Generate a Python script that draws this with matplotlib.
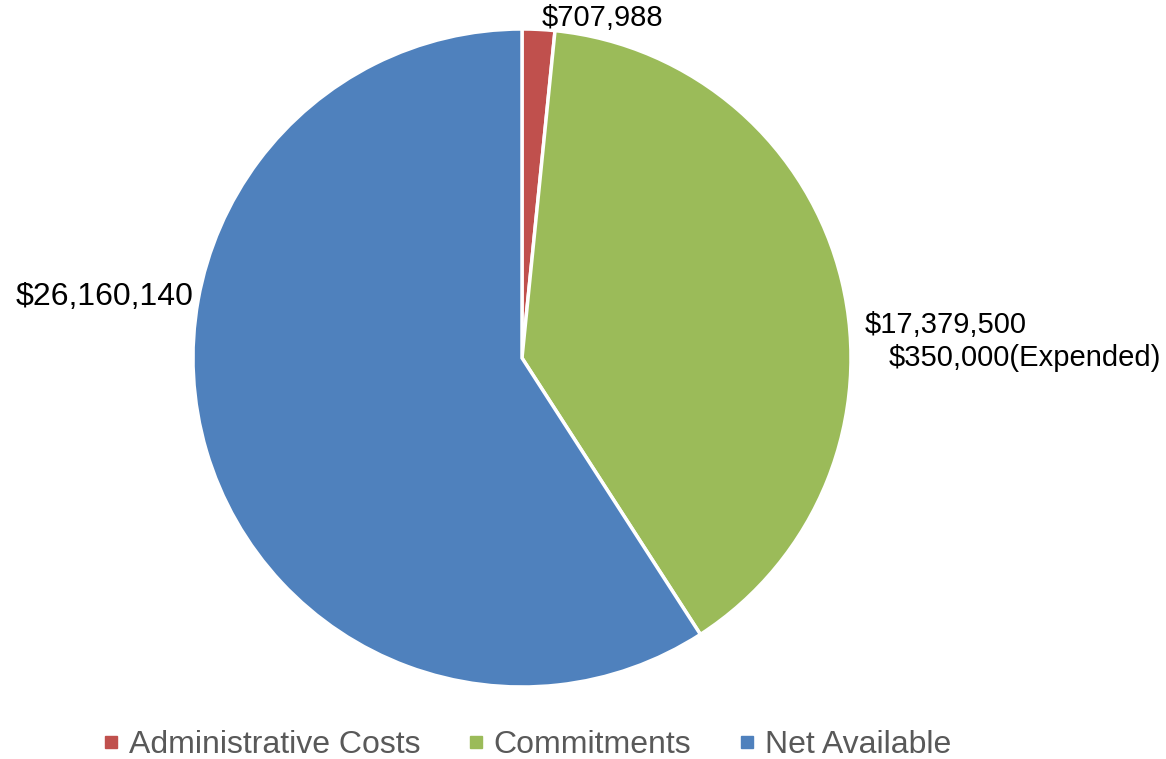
import matplotlib
matplotlib.use("Agg")
import matplotlib.pyplot as plt
from matplotlib.lines import Line2D

plt.rcParams["font.family"] = ["Liberation Sans", "DejaVu Sans"]

categories = ["Administrative Costs", "Commitments", "Net Available"]
values = [707988, 17379500, 26160140]
value_labels = ["$707,988", "$17,379,500", "$26,160,140"]
expended_label = "$350,000(Expended)"
colors = ["#C0504D", "#9BBB59", "#4F81BD"]

W, H = 1166, 759
fig = plt.figure(figsize=(W / 100, H / 100), dpi=100)
cx, cy, r = 522, 358, 329
ax = fig.add_axes([(cx - r) / W, (H - cy - r) / H, 2 * r / W, 2 * r / H])

ax.pie(values, colors=colors, startangle=90, counterclock=False, radius=1,
       wedgeprops=dict(edgecolor="white", linewidth=2.5))
ax.set_xlim(-1, 1)
ax.set_ylim(-1, 1)
ax.set_aspect("equal")
ax.axis("off")

# data labels, placed where the original chart had them
fs = 21
ax.text(0.246, 1.033, value_labels[0], ha="center", va="center", fontsize=fs, clip_on=False)
ax.text(1.040, 0.100, value_labels[1], ha="left", va="center", fontsize=fs, clip_on=False)
ax.text(1.113, 0.0, expended_label, ha="left", va="center", fontsize=fs, clip_on=False)
ax.text(-1.000, 0.185, value_labels[2], ha="right", va="center", fontsize=23, clip_on=False)

handles = [Line2D([], [], marker="s", linestyle="none", markersize=8,
                  markerfacecolor=c, markeredgecolor=c) for c in colors]
leg = fig.legend(handles, categories, loc="center", bbox_to_anchor=(0.452, 1 - 745 / H),
                 ncol=3, frameon=False, fontsize=23, handlelength=0.5,
                 handletextpad=0.3, columnspacing=1.5)
for t in leg.get_texts():
    t.set_color("#595959")

fig.savefig("out.png", dpi=100)
plt.close(fig)
